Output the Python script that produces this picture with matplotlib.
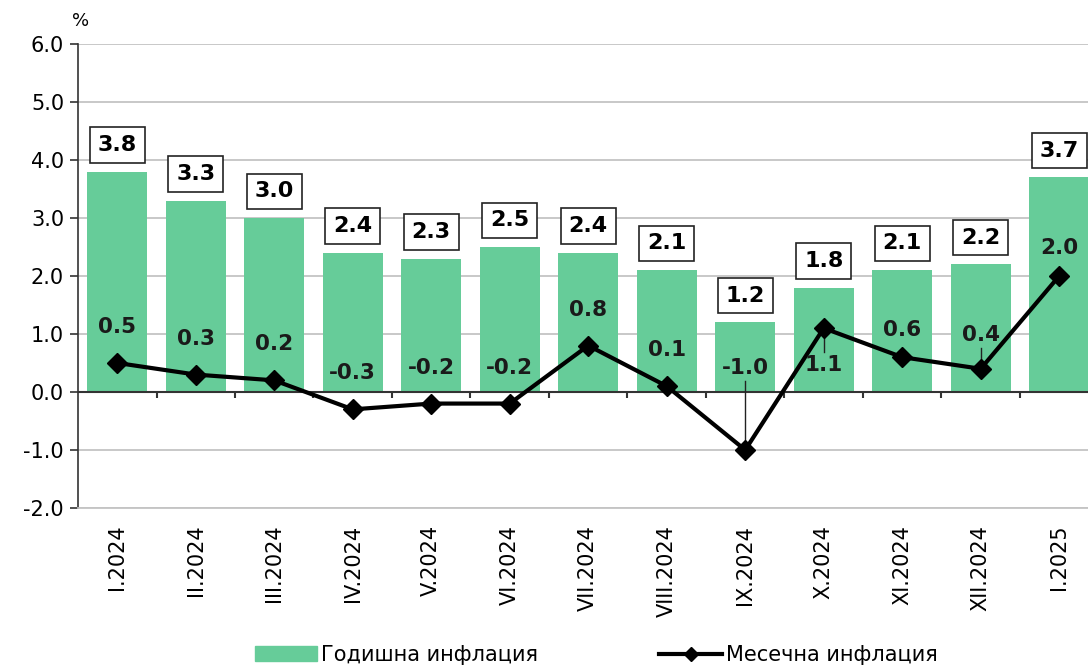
import numpy as np
import matplotlib.pyplot as plt
from matplotlib.patches import Patch
from matplotlib.lines import Line2D

plt.rcParams['font.family'] = 'DejaVu Sans'
plt.rcParams['font.size'] = 15

months = ['I.2024', 'II.2024', 'III.2024', 'IV.2024', 'V.2024', 'VI.2024',
          'VII.2024', 'VIII.2024', 'IX.2024', 'X.2024', 'XI.2024', 'XII.2024', 'I.2025']
annual = [3.8, 3.3, 3.0, 2.4, 2.3, 2.5, 2.4, 2.1, 1.2, 1.8, 2.1, 2.2, 3.7]
monthly = [0.5, 0.3, 0.2, -0.3, -0.2, -0.2, 0.8, 0.1, -1.0, 1.1, 0.6, 0.4, 2.0]

GREEN = '#66CC99'

# where the monthly labels go (data y of label centre), default = value + 0.62
label_pos = {8: 0.41, 9: 0.47, 10: 1.07, 11: 0.98, 12: 2.48}
leaders = {8, 9, 11}

fig = plt.figure(figsize=(10.88, 6.69), dpi=100)
ax = fig.add_axes([0.0717, 0.2407, 0.9379, 0.6936])

x = np.arange(len(months))

ax.set_ylim(-2, 6)
ax.set_xlim(-0.5, len(months) - 0.5)
ax.set_yticks(np.arange(-2, 7, 1))
ax.set_yticklabels([f'{v:.1f}' for v in np.arange(-2, 7, 1)])
ax.yaxis.grid(True, color='#C4C4C4', lw=1.3, zorder=0)
ax.set_axisbelow(True)

ax.bar(x, annual, width=0.76, color=GREEN, zorder=2)

# zero axis line with category ticks
ax.axhline(0, color='#333333', lw=1.5, zorder=3)
ax.vlines(x[:-1] + 0.5, -0.1, 0, color='#333333', lw=1.5, zorder=3)

ax.plot(x, monthly, color='black', lw=3, marker='D', markersize=10, zorder=5)

for i, v in enumerate(annual):
    ax.text(i, v + 0.46, f'{v:.1f}', ha='center', va='center', fontsize=16,
            fontweight='bold', zorder=6,
            bbox=dict(boxstyle='square,pad=0.35', fc='white', ec='#222222', lw=1.2))

for i, v in enumerate(monthly):
    ly = label_pos.get(i, v + 0.62)
    ax.text(i, ly, f'{v:.1f}', ha='center', va='center', fontsize=15.5,
            fontweight='bold', color='#1a1a1a', zorder=6)
    if i in leaders:
        if ly > v:
            ax.plot([i, i], [ly - 0.22, v + 0.05], color='#222222', lw=1, zorder=4)
        else:
            ax.plot([i, i], [ly + 0.22, v - 0.05], color='#222222', lw=1, zorder=4)

ax.set_xticks(x)
ax.set_xticklabels(months, rotation=90, fontsize=15)
ax.tick_params(axis='x', length=0, pad=12)
ax.tick_params(axis='y', length=6, width=1.2, color='#333333', labelsize=15, pad=4)

for s in ['top', 'right']:
    ax.spines[s].set_visible(False)
ax.spines['bottom'].set_color('#C4C4C4')
ax.spines['bottom'].set_linewidth(1.3)
ax.spines['left'].set_color('#333333')
ax.spines['left'].set_linewidth(1.2)

fig.text(0.066, 0.968, '%', fontsize=13, ha='left', va='center')

handles = [Patch(color=GREEN, label='Годишна инфлация'),
           Line2D([], [], color='black', lw=3, marker='D', markersize=7,
                  label='Месечна инфлация')]
fig.legend(handles=handles, loc='lower center', bbox_to_anchor=(0.548, -0.022), ncol=2,
           frameon=False, fontsize=15, handlelength=3.0, columnspacing=5.8,
           handletextpad=0.2)

fig.savefig('out.png', dpi=100)
